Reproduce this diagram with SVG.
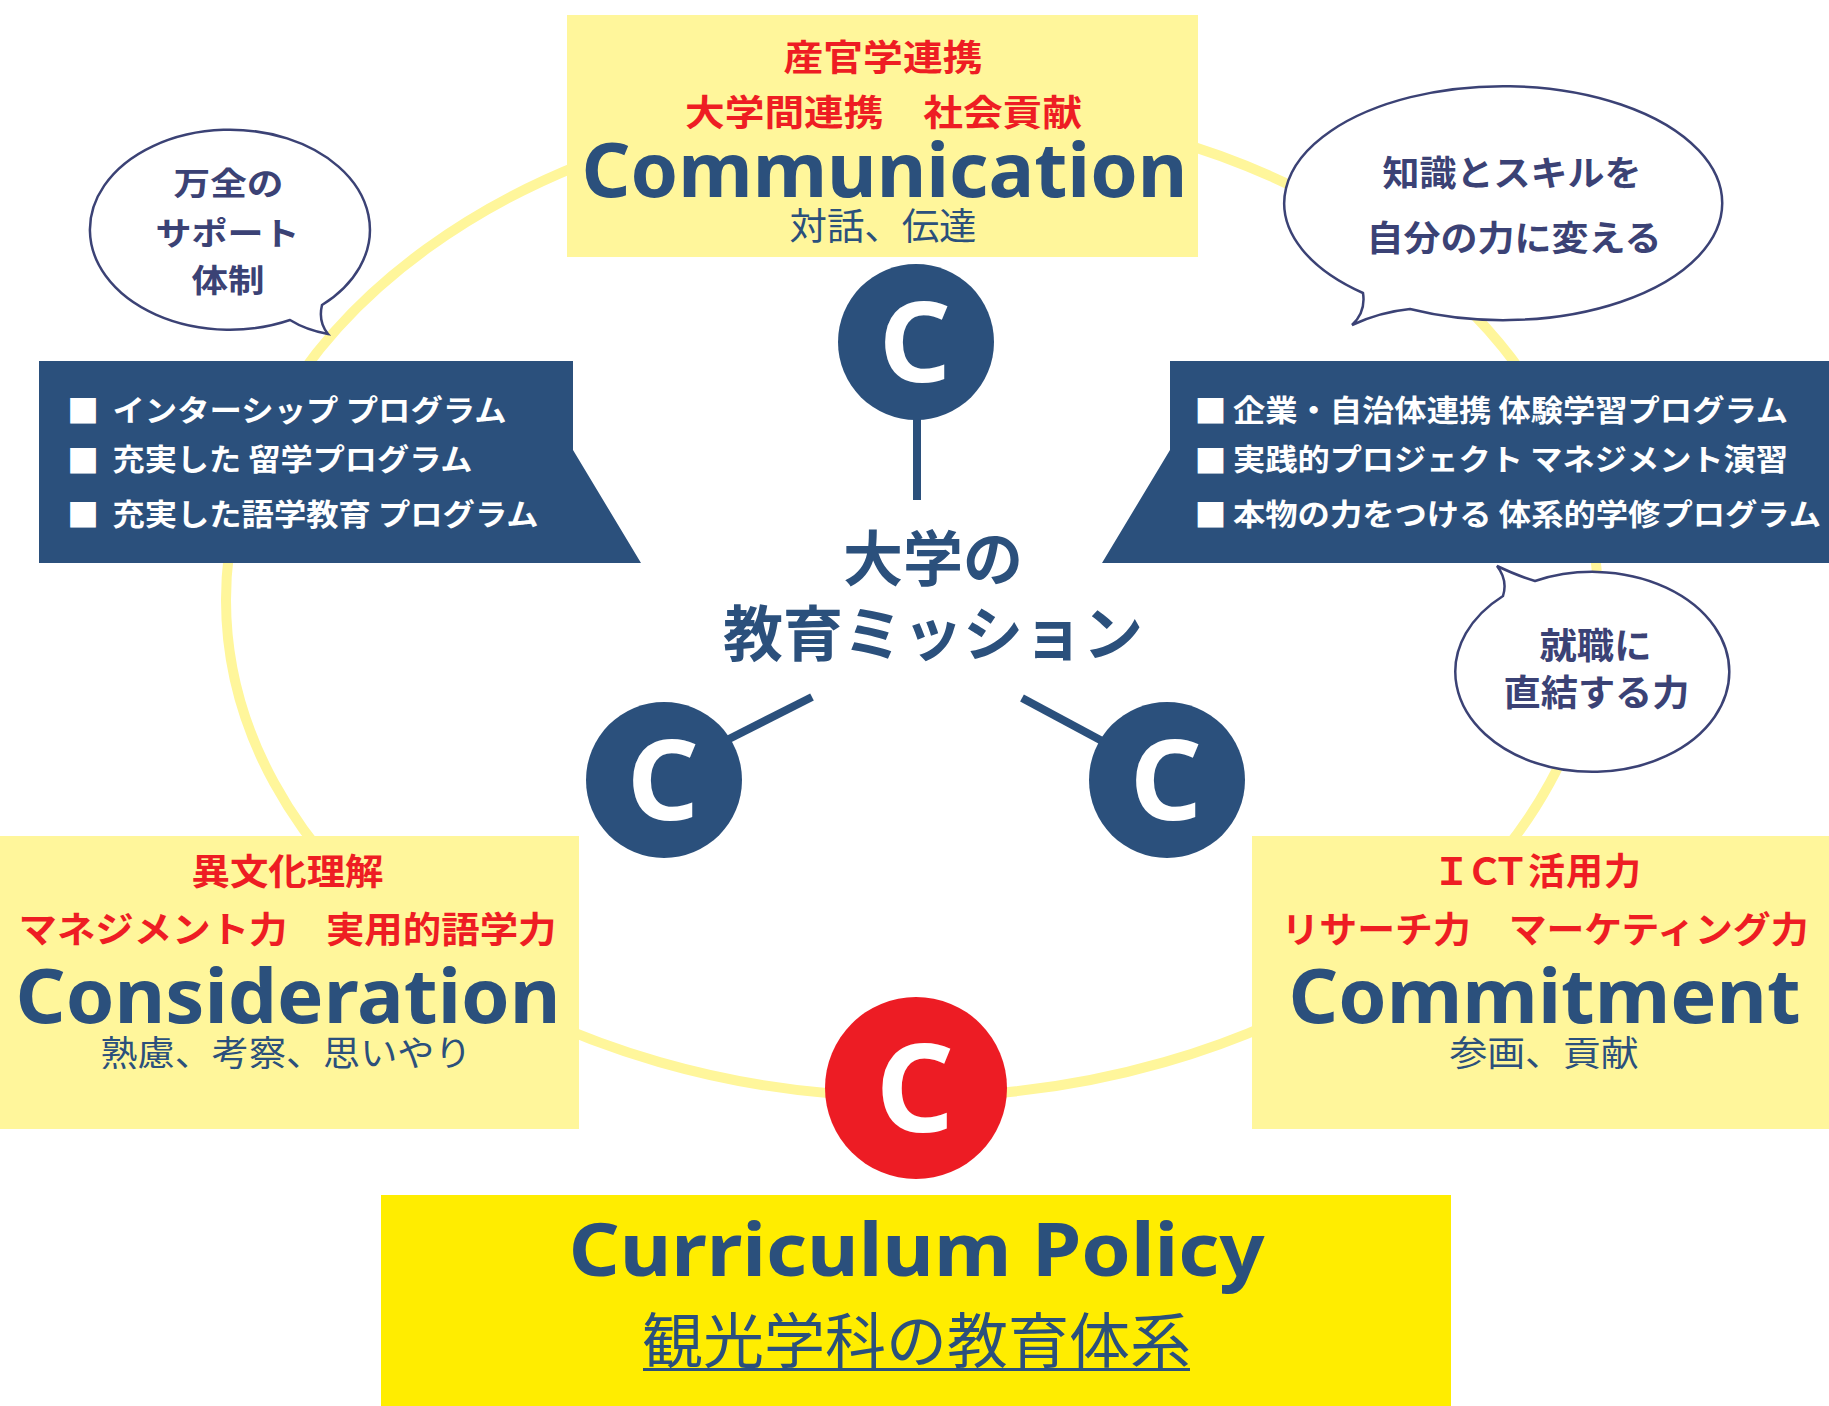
<svg xmlns="http://www.w3.org/2000/svg" width="1829" height="1406" viewBox="0 0 1829 1406">
<style>
.jp{font-family:"Noto Sans CJK JP","Noto Sans",sans-serif}
.b{font-weight:700}
.r{font-weight:400}
.red{fill:#EE1D23}
.navy{fill:#2B507C}
.wt{fill:#FFFFFF}
.bub{fill:#3B4275}
.en{font-family:"Noto Sans","Open Sans",sans-serif;font-weight:700;fill:#2B507C}
.pale{fill:#FFF69B}
.panel{fill:#2B507C}
.bubble{fill:#FFFFFF;stroke:#3B4275;stroke-width:2.5}
.conn{stroke:#2B507C;stroke-width:8;fill:none}
.cl{font-family:"Noto Sans","DejaVu Sans",sans-serif;font-weight:700;fill:#FFFFFF;text-anchor:middle}
</style>
<rect width="1829" height="1406" fill="#FFFFFF"/>
<ellipse id="ring" cx="912" cy="600" rx="686" ry="497" fill="none" stroke="#FFF69B" stroke-width="10"/>

<g id="communication">
<rect class="pale" x="567" y="15" width="631" height="242"/>
<text class="jp b red" x="783.5" y="71" font-size="36" textLength="199" lengthAdjust="spacingAndGlyphs">産官学連携</text>
<text class="jp b red" x="685" y="126" font-size="36" textLength="397" lengthAdjust="spacingAndGlyphs">大学間連携　社会貢献</text>
<text class="en" x="581.5" y="197" font-size="75" textLength="606" lengthAdjust="spacingAndGlyphs">Communication</text>
<text class="jp r navy" x="789.5" y="240" font-size="37" textLength="187" lengthAdjust="spacingAndGlyphs">対話、伝達</text>
</g>

<g id="consideration">
<rect class="pale" x="0" y="836" width="579" height="293"/>
<text class="jp b red" x="191.5" y="885" font-size="36" textLength="192" lengthAdjust="spacingAndGlyphs">異文化理解</text>
<text class="jp b red" x="18.5" y="943" font-size="36" textLength="538" lengthAdjust="spacingAndGlyphs">マネジメント力　実用的語学力</text>
<text class="en" x="15.6" y="1023" font-size="76" textLength="545" lengthAdjust="spacingAndGlyphs">Consideration</text>
<text class="jp r navy" x="100.5" y="1066" font-size="35" textLength="371" lengthAdjust="spacingAndGlyphs">熟慮、考察、思いやり</text>
</g>

<g id="commitment">
<rect class="pale" x="1252" y="836" width="577" height="293"/>
<text class="jp b red" x="1433 1466 1492 1528 1566 1604" y="885" font-size="37">ＩＣＴ活用力</text>
<text class="jp b red" x="1281.5" y="943" font-size="36" textLength="527" lengthAdjust="spacingAndGlyphs">リサーチ力　マーケティング力</text>
<text class="en" x="1288.6" y="1023" font-size="76" textLength="512" lengthAdjust="spacingAndGlyphs">Commitment</text>
<text class="jp r navy" x="1449.5" y="1066" font-size="35" textLength="189" lengthAdjust="spacingAndGlyphs">参画、貢献</text>
</g>

<g id="curriculum-policy">
<rect x="381" y="1195" width="1070" height="211" fill="#FFED00"/>
<text class="en" x="568.7" y="1276" font-size="74" textLength="696" lengthAdjust="spacingAndGlyphs">Curriculum Policy</text>
<text class="jp r navy" x="642" y="1363" font-size="60" textLength="549" lengthAdjust="spacingAndGlyphs">観光学科の教育体系</text>
<rect class="navy" x="643" y="1368" width="547" height="3"/>
</g>

<g id="left-programs">
<polygon class="panel" points="39,361 573,361 573,450 641,563 39,563"/>
<text class="jp wt" x="83" y="422.5" font-size="32" text-anchor="middle">■</text>
<text class="jp wt" x="83" y="472.5" font-size="32" text-anchor="middle">■</text>
<text class="jp wt" x="83" y="526.5" font-size="32" text-anchor="middle">■</text>
<text class="jp b wt" x="112.5" y="421" font-size="30" textLength="394" lengthAdjust="spacingAndGlyphs">インターシップ プログラム</text>
<text class="jp b wt" x="112.5" y="470" font-size="30" textLength="360" lengthAdjust="spacingAndGlyphs">充実した 留学プログラム</text>
<text class="jp b wt" x="112.5" y="525" font-size="30" textLength="426" lengthAdjust="spacingAndGlyphs">充実した語学教育 プログラム</text>
</g>

<g id="right-programs">
<polygon class="panel" points="1170,361 1829,361 1829,563 1102,563 1170,450"/>
<text class="jp wt" x="1210.5" y="422.5" font-size="32" text-anchor="middle">■</text>
<text class="jp wt" x="1210.5" y="472.5" font-size="32" text-anchor="middle">■</text>
<text class="jp wt" x="1210.5" y="526.5" font-size="32" text-anchor="middle">■</text>
<text class="jp b wt" x="1233" y="421" font-size="30" textLength="555" lengthAdjust="spacingAndGlyphs">企業・自治体連携 体験学習プログラム</text>
<text class="jp b wt" x="1233" y="470" font-size="30" textLength="555" lengthAdjust="spacingAndGlyphs">実践的プロジェクト マネジメント演習</text>
<text class="jp b wt" x="1233" y="525" font-size="30" textLength="588" lengthAdjust="spacingAndGlyphs">本物の力をつける 体系的学修プログラム</text>
</g>

<g id="bubble-support">
<path class="bubble" d="M 290 320 A 140 100 0 1 1 322 305 Q 318 322 328 334 Q 306 330 290 320 Z"/>
<text class="jp b bub" x="173.5" y="195" font-size="32" textLength="110" lengthAdjust="spacingAndGlyphs">万全の</text>
<text class="jp b bub" x="155.5" y="245" font-size="32" textLength="144" lengthAdjust="spacingAndGlyphs">サポート</text>
<text class="jp b bub" x="191.5" y="292" font-size="32" textLength="73" lengthAdjust="spacingAndGlyphs">体制</text>
</g>

<g id="bubble-skill">
<path class="bubble" d="M 1410 309 A 219 117 0 1 0 1363 293 Q 1366 312 1352 325 Q 1380 312 1410 309 Z"/>
<text class="jp b bub" x="1382.5" y="186" font-size="35" textLength="259" lengthAdjust="spacingAndGlyphs">知識とスキルを</text>
<text class="jp b bub" x="1366.5" y="251" font-size="35" textLength="295" lengthAdjust="spacingAndGlyphs">自分の力に変える</text>
</g>

<g id="bubble-career">
<path class="bubble" d="M 1503 596 Q 1508 580 1497 566 Q 1518 576 1535 581 A 137 100 0 1 1 1503 596 Z"/>
<text class="jp b bub" x="1539.5" y="659" font-size="36" textLength="112" lengthAdjust="spacingAndGlyphs">就職に</text>
<text class="jp b bub" x="1503.5" y="706" font-size="36" textLength="186" lengthAdjust="spacingAndGlyphs">直結する力</text>
</g>

<g id="connectors">
<line class="conn" x1="917" y1="410" x2="917" y2="500"/>
<line class="conn" x1="812" y1="697" x2="725" y2="741"/>
<line class="conn" x1="1022" y1="698" x2="1104" y2="742"/>
</g>

<g id="c-top">
<circle cx="916" cy="342" r="78" fill="#2B507C"/>
<text class="cl" x="915" y="382" font-size="112">C</text>
</g>
<g id="c-left">
<circle cx="664" cy="780" r="78" fill="#2B507C"/>
<text class="cl" x="663" y="820" font-size="112">C</text>
</g>
<g id="c-right">
<circle cx="1167" cy="780" r="78" fill="#2B507C"/>
<text class="cl" x="1166" y="820" font-size="112">C</text>
</g>
<g id="c-red">
<circle cx="916" cy="1088" r="91" fill="#ED1C24"/>
<text class="cl" x="915" y="1132" font-size="122">C</text>
</g>

<g id="mission">
<text class="jp b navy" x="933" y="581" font-size="60" text-anchor="middle">大学の</text>
<text class="jp b navy" x="933" y="656" font-size="60" text-anchor="middle">教育ミッション</text>
</g>
</svg>
